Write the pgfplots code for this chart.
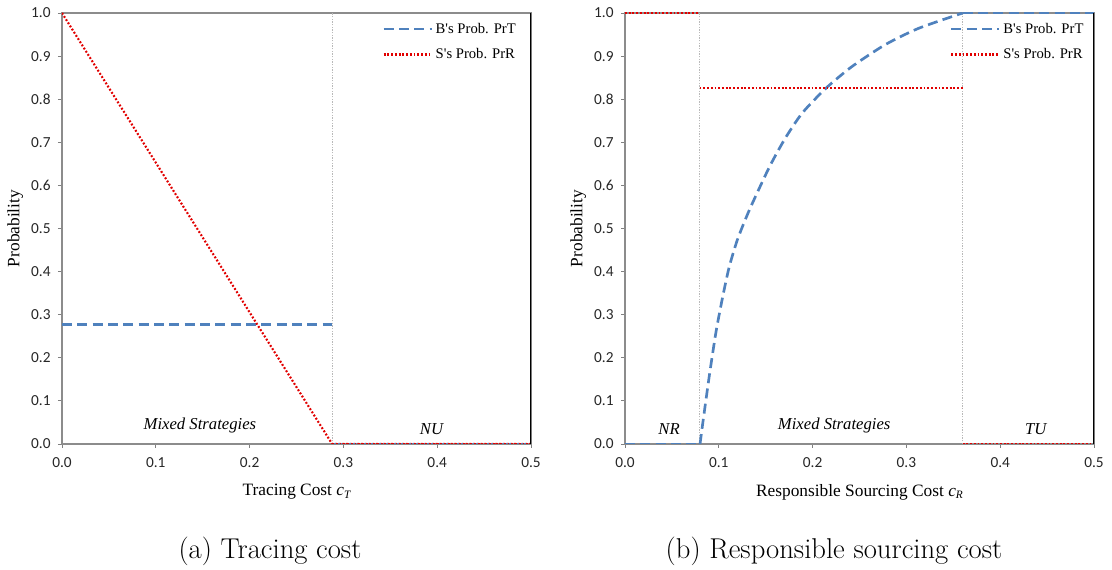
\documentclass[border=0pt]{standalone}
\usepackage{fontspec}
\usepackage{pgfplots}
\pgfplotsset{compat=1.18}
\newfontfamily\timesf{Liberation Serif}
\newfontfamily\calib{Carlito}
\definecolor{bblue}{RGB}{79,129,189}
\definecolor{rred}{RGB}{225,0,0}
\pgfplotsset{
  myax/.style={
    scale only axis, width=351.75pt, height=323.25pt,
    xmin=0, xmax=0.5, ymin=0, ymax=1,
    xtick={0,0.1,0.2,0.3,0.4,0.5},
    ytick={0,0.1,0.2,0.3,0.4,0.5,0.6,0.7,0.8,0.9,1},
    xtick pos=bottom, ytick pos=left,
    tick align=outside, major tick length=3pt,
    tick style={gray, line width=0.6pt},
    axis line style={gray!90, line width=0.9pt},
    /pgf/number format/.cd, fixed, fixed zerofill, precision=1, assume math mode=true,
    /pgfplots/.cd,
    ticklabel style={font=\calib\fontsize{11.5}{13}\selectfont, text=black!85},
    xticklabel style={yshift=-4pt},
    yticklabel style={xshift=-2pt},
    xlabel style={at={(axis description cs:0.5,0)}, anchor=center, yshift=-36pt, font=\timesf\fontsize{13}{15}\selectfont},
    ylabel style={at={(axis description cs:-0.0995,0.5)}, anchor=center, font=\timesf\fontsize{13}{15}\selectfont},
    ylabel={Probability},
    legend style={draw=none, fill=none, anchor=north west,
      font=\timesf\fontsize{11}{13}\selectfont, row sep=6pt,
      cells={anchor=west}},
    legend image code/.code={\draw[#1] (0pt,0pt) -- (36pt,0pt);},
    bl/.style={color=bblue, line width=2pt, dash pattern=on 7.5pt off 4pt},
    rd/.style={color=rred, line width=1.6pt, dash pattern=on 1.4pt off 1.4pt},
    gv/.style={color=gray!55, line width=0.6pt, dash pattern=on 1pt off 1pt},
  }
}
\begin{document}
\begin{tikzpicture}[x=1pt,y=1pt]
\path[use as bounding box] (0,0) rectangle (834,427.5);
% ---------- (a)
\begin{axis}[myax, at={(46.5pt,94.5pt)}, anchor=south west,
  xlabel={Tracing Cost \textit{c}\raisebox{-0.35ex}{\fontsize{8.5}{9}\selectfont\itshape T}},
  legend style={at={(rel axis cs:0.674,0.99)}}]
\addplot[gv, forget plot] coordinates {(0.288,0) (0.288,1)};
\addplot[bl] coordinates {(0,0.278) (0.288,0.278)};
\addlegendentry{B's Prob. PrT}
\addplot[rd] coordinates {(0,1) (0.288,0) (0.5,0)};
\addlegendentry{S's Prob. PrR}
\addplot[bl, forget plot] coordinates {(0.288,0) (0.5,0)};
\addplot[rd, forget plot] coordinates {(0.288,0) (0.5,0)};
\node[font=\timesf\itshape\fontsize{12.5}{14}\selectfont] at (axis cs:0.147,0.042) {Mixed Strategies};
\node[font=\timesf\itshape\fontsize{12.5}{14}\selectfont] at (axis cs:0.394,0.035) {NU};
\draw[black, line width=0.9pt] (rel axis cs:1,0) -- (rel axis cs:1,1);
\end{axis}
% ---------- (b)
\begin{axis}[myax, at={(468.75pt,94.5pt)}, anchor=south west,
  xlabel={Responsible Sourcing Cost \textit{c}\raisebox{-0.35ex}{\fontsize{8.5}{9}\selectfont\itshape R}},
  legend style={at={(rel axis cs:0.684,0.99)}}]
\addplot[gv, forget plot] coordinates {(0.0795,0) (0.0795,1)};
\addplot[gv, forget plot] coordinates {(0.36,0) (0.36,1)};
\addplot[bl, smooth, tension=0.4] coordinates {
  (0.080,0) (0.083,0.05) (0.090,0.16) (0.097,0.26) (0.104,0.34)
  (0.111,0.41) (0.120,0.475) (0.133,0.545) (0.154,0.643) (0.171,0.71)
  (0.189,0.768) (0.214,0.825) (0.2415,0.875) (0.277,0.926)
  (0.3125,0.964) (0.36,1.0)};
\addlegendentry{B's Prob. PrT}
\addplot[rd] coordinates {(0.0795,0.826) (0.36,0.826)};
\addlegendentry{S's Prob. PrR}
\addplot[bl, forget plot] coordinates {(0,0) (0.08,0)};
\addplot[bl, forget plot] coordinates {(0.36,1) (0.5,1)};
\addplot[rd, forget plot] coordinates {(0,1) (0.0795,1)};
\addplot[rd, forget plot] coordinates {(0.36,0) (0.5,0)};
\node[font=\timesf\itshape\fontsize{12.5}{14}\selectfont] at (axis cs:0.047,0.035) {NR};
\node[font=\timesf\itshape\fontsize{12.5}{14}\selectfont] at (axis cs:0.223,0.042) {Mixed Strategies};
\node[font=\timesf\itshape\fontsize{12.5}{14}\selectfont] at (axis cs:0.438,0.035) {TU};
\draw[black, line width=0.9pt] (rel axis cs:1,0) -- (rel axis cs:1,1);
\end{axis}
% captions
\node[font=\fontsize{21.5}{25}\selectfont] at (202.5,14.25) {(a) Tracing cost};
\node[font=\fontsize{21.5}{25}\selectfont] at (625.5,14.25) {(b) Responsible sourcing cost};
\end{tikzpicture}
\end{document}
